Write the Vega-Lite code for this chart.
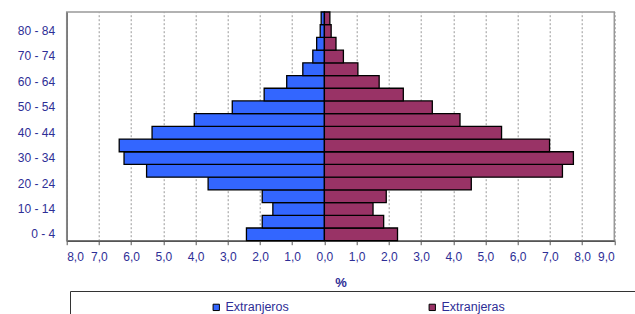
{
  "$schema": "https://vega.github.io/schema/vega-lite/v6.json",
  "autosize": {"type": "none"},
  "padding": {"left": 66.7, "top": 12, "right": 20.7, "bottom": 73.3},
  "width": 547.6,
  "height": 228.7,
  "background": "white",
  "config": {
    "font": "Liberation Sans",
    "view": {"stroke": "#999999", "strokeWidth": 1.5},
    "axis": {"labelColor": "#2E2E96", "labelFont": "Liberation Sans", "labelFontSize": 12}
  },
  "data": {"values": [
    {"age": "0 - 4", "sex": "Extranjeros", "value": -2.42},
    {"age": "5 - 9", "sex": "Extranjeros", "value": -1.93},
    {"age": "10 - 14", "sex": "Extranjeros", "value": -1.6},
    {"age": "15 - 19", "sex": "Extranjeros", "value": -1.93},
    {"age": "20 - 24", "sex": "Extranjeros", "value": -3.61},
    {"age": "25 - 29", "sex": "Extranjeros", "value": -5.52},
    {"age": "30 - 34", "sex": "Extranjeros", "value": -6.22},
    {"age": "35 - 39", "sex": "Extranjeros", "value": -6.37},
    {"age": "40 - 44", "sex": "Extranjeros", "value": -5.35},
    {"age": "45 - 49", "sex": "Extranjeros", "value": -4.04},
    {"age": "50 - 54", "sex": "Extranjeros", "value": -2.86},
    {"age": "55 - 59", "sex": "Extranjeros", "value": -1.87},
    {"age": "60 - 64", "sex": "Extranjeros", "value": -1.17},
    {"age": "65 - 69", "sex": "Extranjeros", "value": -0.67},
    {"age": "70 - 74", "sex": "Extranjeros", "value": -0.36},
    {"age": "75 - 79", "sex": "Extranjeros", "value": -0.24},
    {"age": "80 - 84", "sex": "Extranjeros", "value": -0.13},
    {"age": "85 +", "sex": "Extranjeros", "value": -0.1},
    {"age": "0 - 4", "sex": "Extranjeras", "value": 2.27},
    {"age": "5 - 9", "sex": "Extranjeras", "value": 1.84},
    {"age": "10 - 14", "sex": "Extranjeras", "value": 1.51},
    {"age": "15 - 19", "sex": "Extranjeras", "value": 1.92},
    {"age": "20 - 24", "sex": "Extranjeras", "value": 4.56},
    {"age": "25 - 29", "sex": "Extranjeras", "value": 7.39},
    {"age": "30 - 34", "sex": "Extranjeras", "value": 7.73},
    {"age": "35 - 39", "sex": "Extranjeras", "value": 6.99},
    {"age": "40 - 44", "sex": "Extranjeras", "value": 5.5},
    {"age": "45 - 49", "sex": "Extranjeras", "value": 4.21},
    {"age": "50 - 54", "sex": "Extranjeras", "value": 3.35},
    {"age": "55 - 59", "sex": "Extranjeras", "value": 2.45},
    {"age": "60 - 64", "sex": "Extranjeras", "value": 1.7},
    {"age": "65 - 69", "sex": "Extranjeras", "value": 1.04},
    {"age": "70 - 74", "sex": "Extranjeras", "value": 0.59},
    {"age": "75 - 79", "sex": "Extranjeras", "value": 0.36},
    {"age": "80 - 84", "sex": "Extranjeras", "value": 0.21},
    {"age": "85 +", "sex": "Extranjeras", "value": 0.17}
  ]},
  "mark": {"type": "bar", "stroke": "black", "strokeWidth": 1.3, "strokeJoin": "miter"},
  "encoding": {
    "y": {
      "field": "age", "type": "nominal",
      "sort": ["85 +", "80 - 84", "75 - 79", "70 - 74", "65 - 69", "60 - 64", "55 - 59", "50 - 54", "45 - 49", "40 - 44", "35 - 39", "30 - 34", "25 - 29", "20 - 24", "15 - 19", "10 - 14", "5 - 9", "0 - 4"],
      "scale": {"paddingInner": 0, "paddingOuter": 0},
      "axis": {
        "title": null, "ticks": false, "labelPadding": 12,
        "domainColor": "#777777", "domainWidth": 1.5,
        "labelExpr": "test(regexp('^[0-9]*0 - '), datum.label) ? datum.label : ''"
      }
    },
    "x": {
      "field": "value", "type": "quantitative",
      "scale": {"domain": [-8, 9], "nice": false, "zero": false},
      "axis": {
        "title": "%", "titleColor": "#2E2E96", "titleFontSize": 13, "titleFontWeight": "bold", "titlePadding": 14,
        "values": [-8, -7, -6, -5, -4, -3, -2, -1, 0, 1, 2, 3, 4, 5, 6, 7, 8, 9],
        "labelExpr": "replace(format(abs(datum.value), '.1f'), '.', ',')",
        "labelPadding": 7, "tickSize": 4, "tickColor": "#555555", "domainColor": "#555555", "domainWidth": 1.5,
        "grid": true, "gridDash": [2, 2], "gridColor": "#999999", "gridWidth": 1
      }
    },
    "color": {
      "field": "sex", "type": "nominal",
      "scale": {"domain": ["Extranjeros", "Extranjeras"], "range": ["#3366FF", "#993366"]},
      "legend": {
        "orient": "none", "legendX": 3.3, "legendY": 279,
        "direction": "horizontal", "columns": 2, "columnPadding": 7,
        "title": " ", "titleOrient": "right", "titlePadding": 260,
        "symbolType": "square", "symbolSize": 40, "symbolStrokeColor": "black", "symbolStrokeWidth": 1, "symbolOpacity": 1,
        "symbolOffset": 130,
        "labelColor": "#2E2E96", "labelFontSize": 12.5, "labelFont": "Liberation Sans", "labelOffset": 3,
        "strokeColor": "#333333", "padding": 10
      }
    }
  }
}
